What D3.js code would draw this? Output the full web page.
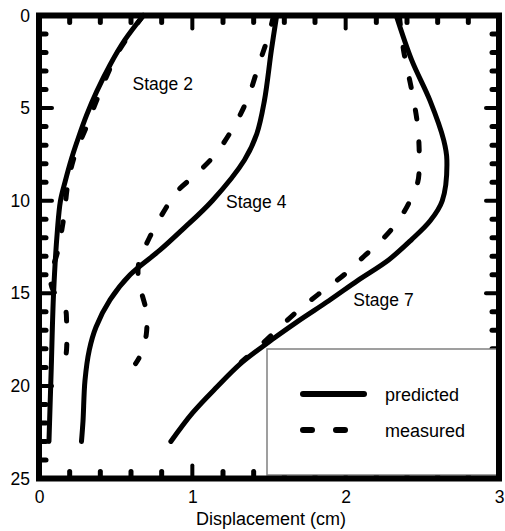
<!DOCTYPE html>
<html>
<head>
<meta charset="UTF-8">
<style>
body {margin:0; background:#fff;}
text {font-family: "Liberation Sans", Arial, sans-serif; fill:#000;}
.curve {fill:none; stroke:#000; stroke-width:5px; stroke-linecap:round; stroke-linejoin:round;}
.measured {stroke-dasharray: 9 23;}
.tick-line {stroke:#000; stroke-linecap:round;}
</style>
<script src="https://cdn.jsdelivr.net/npm/d3@7"></script>
<title>Displacement</title>
</head>
<body>
<svg id="chart" width="505" height="531"></svg>
<script>
// depth (m) , displacement (cm)
var stage2Predicted = [[0,0.68],[1.32,0.56],[2.67,0.463],[4.11,0.376],[5.37,0.311],[6.6,0.257],[7.7,0.213],[8.98,0.17],[10,0.14],[11.6,0.12],[15,0.095],[19,0.08],[23,0.065]];
var stage2Measured  = [[0,0.68],[2,0.515],[4.3,0.39],[6,0.31],[7.5,0.235],[9,0.19],[11,0.16],[12.8,0.12],[14.1,0.075],[14.8,0.09],[15.8,0.17],[16.5,0.18],[18,0.18],[18.7,0.17]];
var stage4Predicted = [[0,1.55],[1.9,1.515],[4.6,1.47],[6.4,1.42],[7.8,1.34],[10,1.13],[11.6,0.93],[12.66,0.79],[14.0,0.594],[15.36,0.463],[16.82,0.372],[18.06,0.328],[19.7,0.30],[21.9,0.287],[23,0.277]];
var stage4Measured  = [[0,1.53],[1,1.50],[2.5,1.44],[4.5,1.36],[6,1.27],[7.5,1.15],[8.6,1.02],[9.5,0.90],[10.5,0.82],[12,0.72],[13.4,0.65],[14.3,0.65],[15,0.67],[16,0.70],[17.2,0.70],[18.2,0.67],[18.8,0.63]];
var stage7Predicted = [[0,2.33],[2.4,2.43],[4.6,2.55],[6.75,2.64],[7.8,2.66],[10,2.63],[11.1,2.55],[12.1,2.43],[13.2,2.28],[14.3,2.08],[15.4,1.89],[16.5,1.69],[17.5,1.52],[18.76,1.32],[20.06,1.16],[21.47,1.00],[23,0.86]];
var stage7Measured  = [[0,2.35],[2,2.38],[4,2.43],[6,2.47],[8,2.48],[9,2.47],[10,2.42],[11,2.35],[12,2.25],[13,2.12],[14,1.99],[15,1.83],[16,1.68],[17,1.55],[18,1.42],[18.7,1.32]];

var stageLabels = [{text:"Stage 2", x:0.61, d:4.0}, {text:"Stage 4", x:1.22, d:10.4}, {text:"Stage 7", x:2.05, d:15.7}];
var xTicks = [0, 1, 2, 3];
var yTicks = [0, 5, 10, 15, 20, 25];
var legendItems = ["predicted", "measured"];

var svg = d3.select("#chart");
var plotL = 39, plotR = 499, plotT = 15.5, plotB = 478.5;

var x = d3.scaleLinear().domain([0, 3]).range([plotL, plotR]);
var y = d3.scaleLinear().domain([0, 25]).range([plotT, plotB]);

var line = d3.line()
    .x(function(p) { return x(p[1]); })
    .y(function(p) { return y(p[0]); })
    .curve(d3.curveCatmullRom.alpha(0.5));

var curves = [
    {data: stage2Predicted, dash: false}, {data: stage2Measured, dash: true},
    {data: stage4Predicted, dash: false}, {data: stage4Measured, dash: true},
    {data: stage7Predicted, dash: false}, {data: stage7Measured, dash: true}
];
svg.selectAll("path.curve").data(curves).enter().append("path")
    .attr("class", function(c) { return c.dash ? "curve measured" : "curve"; })
    .attr("d", function(c) { return line(c.data); });

// ticks, inside on all four sides
var xMinor = d3.range(0, 3.001, 0.2);
var yMinor = d3.range(0, 25.001, 1);
var g = svg.append("g");
function tickLen(major) { return major ? 13 : 7; }
function tickW(major) { return major ? 4 : 5; }
xMinor.forEach(function(v) {
    var major = Math.abs(v - Math.round(v)) < 1e-6;
    [[plotT, 1], [plotB, -1]].forEach(function(s) {
        g.append("line").attr("class", "tick-line")
            .attr("x1", x(v)).attr("x2", x(v))
            .attr("y1", s[0]).attr("y2", s[0] + s[1] * tickLen(major))
            .attr("stroke-width", tickW(major));
    });
});
yMinor.forEach(function(v) {
    var major = v % 5 === 0;
    [[plotL, 1], [plotR, -1]].forEach(function(s) {
        g.append("line").attr("class", "tick-line")
            .attr("y1", y(v)).attr("y2", y(v))
            .attr("x1", s[0]).attr("x2", s[0] + s[1] * tickLen(major))
            .attr("stroke-width", tickW(major));
    });
});

// legend box
var lg = svg.append("g");
lg.append("rect").attr("x", 267).attr("y", 349).attr("width", plotR - 267).attr("height", 126)
    .attr("fill", "#fff").attr("stroke", "#808080").attr("stroke-width", 1.5);
legendItems.forEach(function(name, i) {
    var ly = 394 + i * 36;
    lg.append("line").attr("x1", 303).attr("x2", 364).attr("y1", ly).attr("y2", ly)
        .attr("stroke", "#000").attr("stroke-width", 6).attr("stroke-linecap", "round")
        .attr("stroke-dasharray", i === 1 ? "9 24" : null);
    lg.append("text").attr("x", 385).attr("y", ly + 7).attr("font-size", 18).text(name);
});

// frame
svg.append("rect").attr("x", plotL).attr("y", plotT).attr("width", plotR - plotL).attr("height", plotB - plotT)
    .attr("fill", "none").attr("stroke", "#000").attr("stroke-width", 6);

// axes labels
var xAxis = d3.axisBottom(x).tickValues(xTicks).tickSize(0).tickPadding(0).tickFormat(d3.format("d"));
var ax = svg.append("g").attr("transform", "translate(0," + (plotB + 12) + ")").call(xAxis);
ax.select(".domain").remove();
ax.selectAll("text").attr("font-size", 17.5).attr("font-family", "Liberation Sans, Arial, sans-serif").attr("fill", "#000");

var yAxis = d3.axisLeft(y).tickValues(yTicks).tickSize(0).tickPadding(0).tickFormat(d3.format("d"));
var ay = svg.append("g").attr("transform", "translate(30,0)").call(yAxis);
ay.select(".domain").remove();
ay.selectAll("text").attr("font-size", 17.5).attr("font-family", "Liberation Sans, Arial, sans-serif").attr("fill", "#000");

svg.append("text").attr("x", (plotL + plotR) / 2 + 2).attr("y", 525).attr("text-anchor", "middle")
    .attr("font-size", 18).text("Displacement (cm)");

svg.selectAll("text.stage").data(stageLabels).enter().append("text")
    .attr("class", "stage")
    .attr("x", function(s) { return x(s.x); })
    .attr("y", function(s) { return y(s.d); })
    .attr("font-size", 17.5)
    .text(function(s) { return s.text; });
</script>
</body>
</html>
